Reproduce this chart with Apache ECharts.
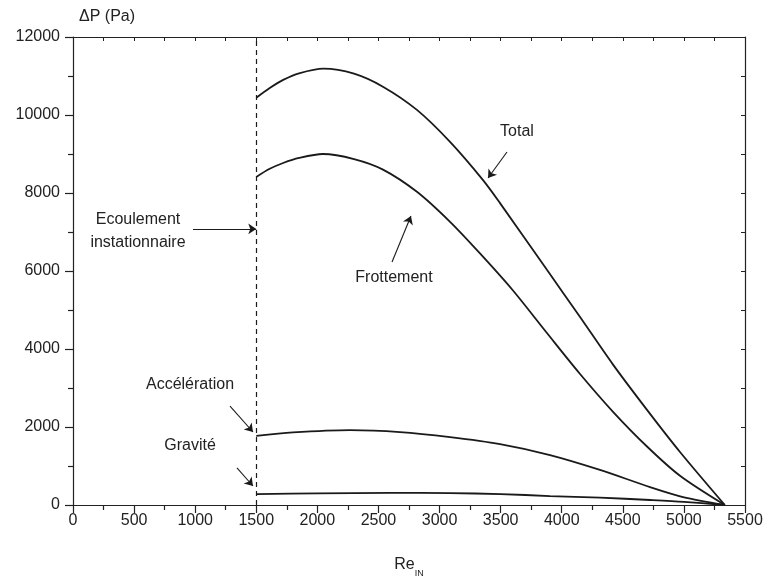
<!DOCTYPE html>
<html>
<head>
<meta charset="utf-8">
<script src="https://cdn.jsdelivr.net/npm/echarts@6/dist/echarts.min.js"></script>
<style>html,body{margin:0;padding:0;background:#fff;overflow:hidden}#c{width:766px;height:580px}</style>
</head>
<body>
<div id="c"></div>
<script>
// Data
const totalX = [1500, 1610, 1720, 1850, 2050, 2300, 2540, 2815, 3086, 3356, 3495, 3879, 4150, 4420, 4698, 4968, 5335];
const totalY = [10440, 10690, 10900, 11070, 11190, 11060, 10720, 10130, 9310, 8330, 7740, 6030, 4820, 3600, 2440, 1360, 0];

const frotX = [1500, 1610, 1720, 1850, 2046, 2300, 2537, 2815, 3086, 3331, 3601, 3879, 4150, 4420, 4698, 4968, 5335];
const frotY = [8410, 8620, 8770, 8900, 9000, 8870, 8600, 8030, 7260, 6450, 5500, 4410, 3360, 2390, 1500, 750, 0];

const accX = [1500, 1800, 2267, 2676, 3086, 3495, 3904, 4313, 4723, 4993, 5335];
const accY = [1770, 1860, 1920, 1870, 1740, 1560, 1280, 900, 460, 205, 0];

const gravX = [1500, 2000, 2600, 3086, 3500, 3904, 4313, 4723, 5000, 5335];
const gravY = [280, 300, 310, 305, 280, 230, 190, 128, 80, 0];

const transitionRe = 1500;

// Annotation arrows: [startX, startY, endX, endY] in data units
const arrowEcoulement = [982, 7080, 1500, 7080];
const arrowTotal = [3552, 9051, 3397, 8385];
const arrowFrottement = [2611, 6231, 2766, 7410];
const arrowAcceleration = [1285, 2538, 1473, 1872];
const arrowGravite = [1342, 949, 1473, 487];

const xTicks = ['0','500','1000','1500','2000','2500','3000','3500','4000','4500','5000','5500'];
const yTicks = ['0','2000','4000','6000','8000','10000','12000'];

const FONT = "'Liberation Sans', Arial, Helvetica, sans-serif";
const INK = '#1a1a1a';

function pairs(xs, ys) { return xs.map((x, i) => [x, ys[i]]); }
function arrow(a) { return [{ coord: [a[0], a[1]] }, { coord: [a[2], a[3]] }]; }

const chart = echarts.init(document.getElementById('c'), null, { renderer: 'canvas', width: 766, height: 580 });

const axisCommon = {
  type: 'value',
  axisLine: { show: true, onZero: false, lineStyle: { color: '#222', width: 1.2 } },
  splitLine: { show: false },
  minorSplitLine: { show: false }
};

const lineSeries = (name, xs, ys) => ({
  name, type: 'line', data: pairs(xs, ys), smooth: 0.3, showSymbol: false, symbol: 'none',
  lineStyle: { color: INK, width: 1.8 }, silent: true, z: 3
});

chart.setOption({
  animation: false,
  backgroundColor: '#fff',
  grid: { left: 73, right: 21, top: 37, bottom: 75, containLabel: false, outerBoundsMode: 'none' },
  xAxis: [
    Object.assign({}, axisCommon, {
      position: 'bottom', min: 0, max: 5500, interval: 500,
      axisTick: { show: true, inside: false, length: 8, lineStyle: { color: '#222', width: 1.2 } },
      minorTick: { show: true, splitNumber: 2, length: 5, lineStyle: { color: '#222', width: 1.2 } },
      axisLabel: { show: true, margin: 8, color: '#222', fontSize: 16, fontFamily: FONT,
        formatter: (v) => xTicks[Math.round(v / 500)] },
      name: '{a|Re}{b|IN}', nameLocation: 'middle', nameGap: 52,
      nameTextStyle: { rich: {
        a: { fontSize: 16, fontFamily: FONT, color: '#222', verticalAlign: 'bottom' },
        b: { fontSize: 9, fontFamily: FONT, color: '#222', verticalAlign: 'bottom', padding: [0, 0, -5, 0] }
      } }
    }),
    Object.assign({}, axisCommon, {
      position: 'top', min: 0, max: 5500, interval: 500,
      axisTick: { show: true, inside: true, length: 4, lineStyle: { color: '#222', width: 1 } },
      minorTick: { show: true, splitNumber: 2, length: 4, lineStyle: { color: '#222', width: 1 } },
      axisLabel: { show: false }
    })
  ],
  yAxis: [
    Object.assign({}, axisCommon, {
      position: 'left', min: 0, max: 12000, interval: 2000,
      axisTick: { show: true, inside: false, length: 8, lineStyle: { color: '#222', width: 1.2 } },
      minorTick: { show: true, splitNumber: 2, length: 5, lineStyle: { color: '#222', width: 1.2 } },
      axisLabel: { show: true, margin: 13, color: '#222', fontSize: 16, fontFamily: FONT,
        formatter: (v) => yTicks[Math.round(v / 2000)] }
    }),
    Object.assign({}, axisCommon, {
      position: 'right', min: 0, max: 12000, interval: 2000,
      axisTick: { show: true, inside: true, length: 4, lineStyle: { color: '#222', width: 1 } },
      minorTick: { show: true, splitNumber: 2, length: 4, lineStyle: { color: '#222', width: 1 } },
      axisLabel: { show: false }
    })
  ],
  series: [
    lineSeries('Total', totalX, totalY),
    lineSeries('Frottement', frotX, frotY),
    lineSeries('Accélération', accX, accY),
    lineSeries('Gravité', gravX, gravY),
    {
      name: 'transition', type: 'line', data: [], silent: true, z: 4,
      markLine: {
        silent: true, animation: false,
        symbol: ['none', 'none'],
        label: { show: false },
        lineStyle: { color: INK, width: 1.2, type: [5, 4] },
        data: [ [ { coord: [transitionRe, 0] }, { coord: [transitionRe, 12000] } ] ]
      }
    },
    {
      name: 'arrows', type: 'line', data: [], silent: true, z: 5,
      markLine: {
        silent: true, animation: false,
        symbol: ['none', 'arrow'], symbolSize: 8,
        label: { show: false },
        lineStyle: { color: INK, width: 1.1, type: 'solid' },
        itemStyle: { color: INK },
        data: [arrow(arrowEcoulement), arrow(arrowTotal), arrow(arrowFrottement), arrow(arrowAcceleration), arrow(arrowGravite)]
      }
    }
  ],
  graphic: [
    { type: 'text', left: 79, top: 9, style: { text: 'ΔP (Pa)', font: '16px ' + FONT, fill: '#222' } },
    { type: 'text', x: 138, y: 231, style: { text: 'Ecoulement\ninstationnaire', font: '16px ' + FONT, fill: '#222', align: 'center', verticalAlign: 'middle', lineHeight: 23 } },
    { type: 'text', x: 517, y: 132, style: { text: 'Total', font: '16px ' + FONT, fill: '#222', align: 'center', verticalAlign: 'middle' } },
    { type: 'text', x: 394, y: 278, style: { text: 'Frottement', font: '16px ' + FONT, fill: '#222', align: 'center', verticalAlign: 'middle' } },
    { type: 'text', x: 190, y: 385, style: { text: 'Accélération', font: '16px ' + FONT, fill: '#222', align: 'center', verticalAlign: 'middle' } },
    { type: 'text', x: 190, y: 446, style: { text: 'Gravité', font: '16px ' + FONT, fill: '#222', align: 'center', verticalAlign: 'middle' } }
  ]
});
</script>
</body>
</html>
